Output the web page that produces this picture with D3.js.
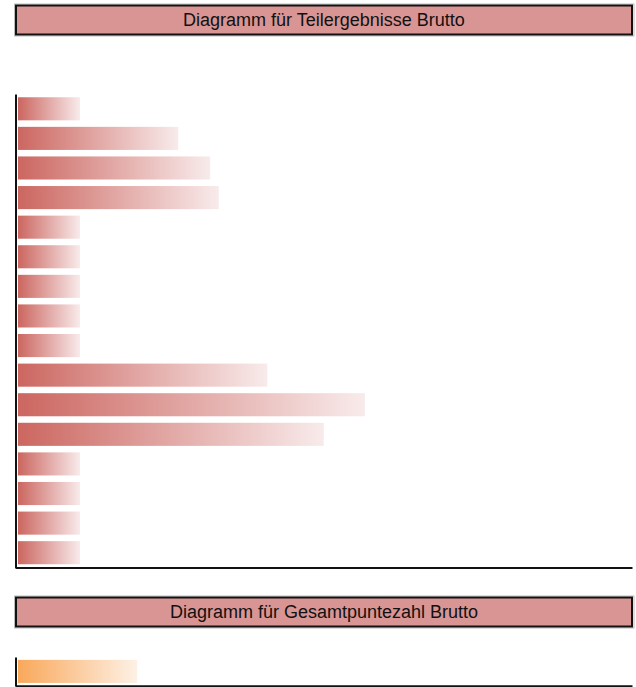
<!DOCTYPE html>
<html>
<head>
<meta charset="utf-8">
<script src="https://cdn.jsdelivr.net/npm/d3@7"></script>
<style>
  html, body { margin: 0; padding: 0; background: #fff; }
  svg { display: block; }
</style>
</head>
<body>
<script>
// Teilergebnisse (partial results), one bar per item
const partCategories = ["1","2","3","4","5","6","7","8","9","10","11","12","13","14","15","16"];
const partValues = [10.1, 26.1, 31.3, 32.7, 10.1, 10.1, 10.1, 10.1, 10.1, 40.6, 56.5, 49.8, 10.1, 10.1, 10.1, 10.1];

// Gesamtpunktzahl (total score)
const totalCategories = ["Gesamt"];
const totalValues = [19.4];

const titles = ["Diagramm für Teilergebnisse Brutto", "Diagramm für Gesamtpuntezahl Brutto"];

const W = 636, H = 687;
const svg = d3.select("body").append("svg").attr("width", W).attr("height", H);
const defs = svg.append("defs");

function gradient(id, from, to) {
  const g = defs.append("linearGradient").attr("id", id)
    .attr("x1", "0%").attr("x2", "100%").attr("y1", "0%").attr("y2", "0%");
  g.append("stop").attr("offset", "0%").attr("stop-color", from);
  g.append("stop").attr("offset", "100%").attr("stop-color", to);
}
gradient("redGrad", "#cc6660", "#f8ebeb");
gradient("orangeGrad", "#f9a85a", "#fdf1e5");

const x = d3.scaleLinear().domain([0, 100]).range([18, 632]);

function titleBox(y, text) {
  const g = svg.append("g");
  // soft shadow frame
  g.append("rect").attr("x", 14.5).attr("y", y - 1).attr("width", 619.5).attr("height", 32)
    .attr("fill", "none").attr("stroke", "#bbb").attr("stroke-width", 1);
  g.append("rect").attr("x", 16).attr("y", y + 0.5).attr("width", 616).attr("height", 29)
    .attr("fill", "#d99594").attr("stroke", "#111").attr("stroke-width", 2);
  g.append("text").attr("x", 324).attr("y", y + 20.5)
    .attr("text-anchor", "middle")
    .attr("font-family", "Liberation Sans, Arial, sans-serif")
    .attr("font-size", 18).attr("fill", "#111").text(text);
}

function barChart(cats, vals, top, bottom, grad, padIn, padOut) {
  const y = d3.scaleBand().domain(cats).range([top, bottom])
    .paddingInner(padIn).paddingOuter(padOut);
  const g = svg.append("g");
  g.selectAll("rect.bar").data(vals).join("rect").attr("class", "bar")
    .attr("x", x(0)).attr("y", (d, i) => y(cats[i]))
    .attr("width", d => x(d) - x(0)).attr("height", y.bandwidth())
    .attr("fill", `url(#${grad})`);
  // axis lines
  const yAxis = d3.axisLeft(y).tickSize(0).tickFormat("");
  const ya = g.append("g").attr("transform", "translate(15.5,0)").call(yAxis);
  ya.select(".domain").attr("stroke", "#111").attr("stroke-width", 2);
  const xAxis = d3.axisBottom(d3.scaleLinear().range([15, 632])).tickValues([]).tickSizeOuter(0);
  const xa = g.append("g").attr("transform", `translate(0,${bottom})`).call(xAxis);
  xa.select(".domain").attr("stroke", "#111").attr("stroke-width", 2);
}

titleBox(5, titles[0]);
barChart(partCategories, partValues, 94, 567.5, "redGrad", 0.22, 0.11);

titleBox(597, titles[1]);
barChart(totalCategories, totalValues, 657, 685.8, "orangeGrad", 0.2, 0.1);
</script>
</body>
</html>
